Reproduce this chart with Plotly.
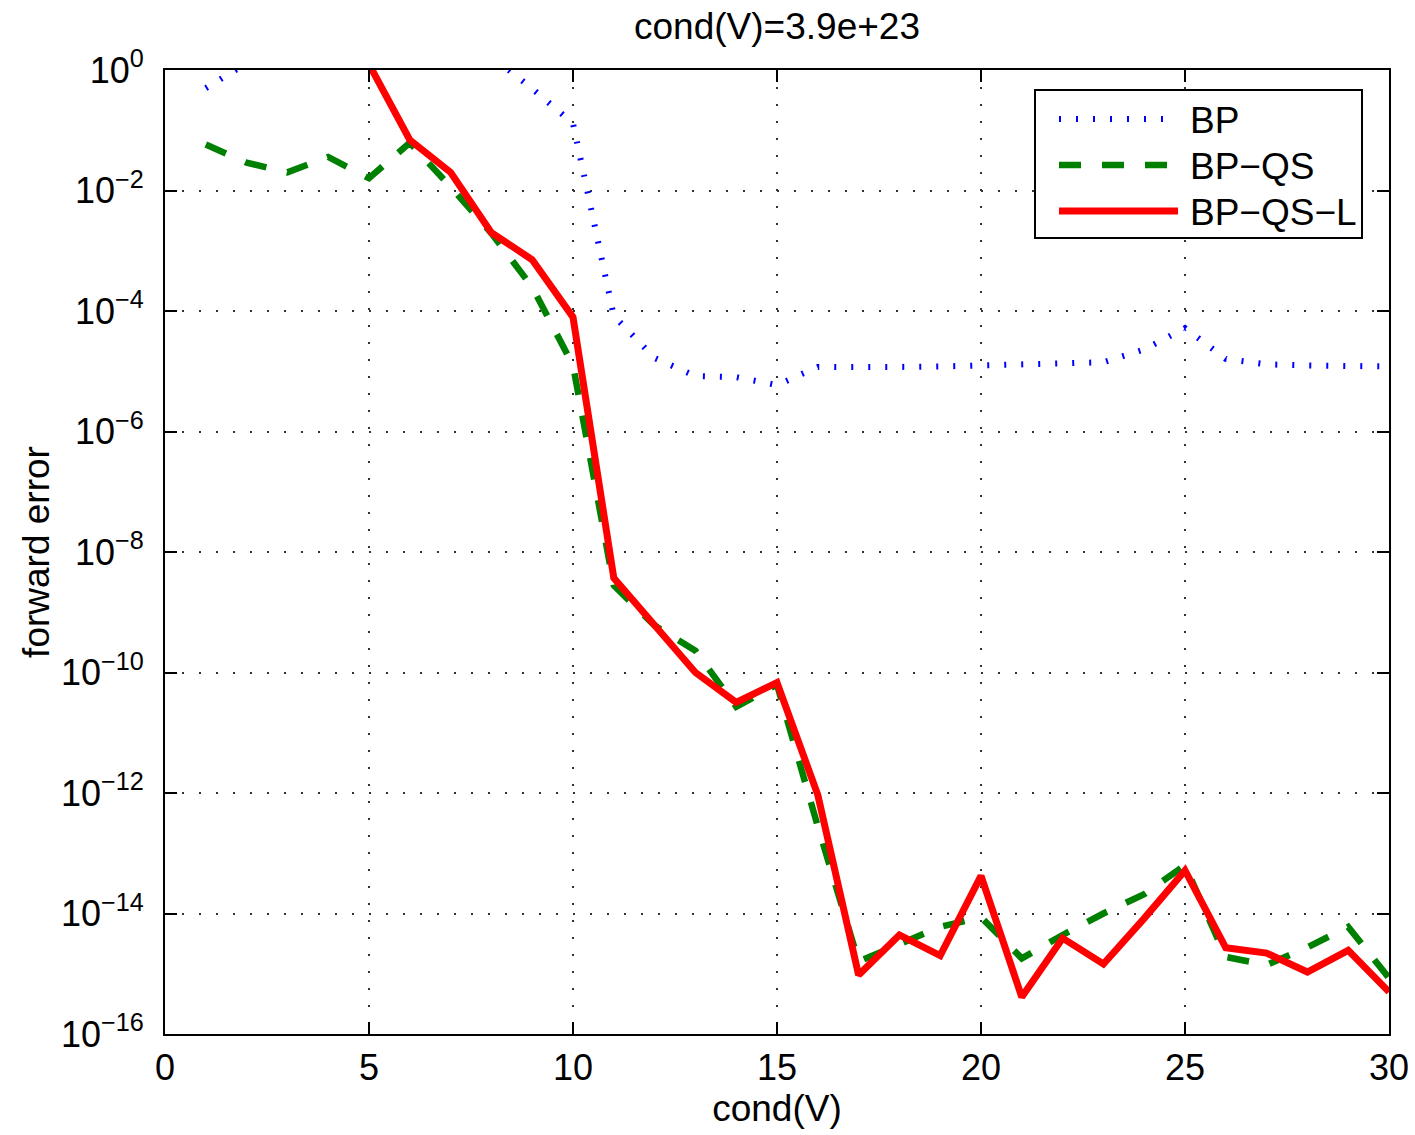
import plotly.graph_objects as go

# ---------------- data ----------------
x_vals = list(range(1, 31))

bp = [5.0e-1, 1.3, 3.0, 4.0, 3.5, 3.0, 2.5, 1.7, 4.9e-1, 1.3e-1,
      8.3e-5, 1.66e-5, 8.3e-6, 8.0e-6, 5.9e-6, 1.18e-5, 1.15e-5, 1.18e-5, 1.2e-5, 1.25e-5,
      1.3e-5, 1.35e-5, 1.41e-5, 2.3e-5, 5.2e-5, 1.6e-5, 1.3e-5, 1.25e-5, 1.2e-5, 1.2e-5]

bp_qs = [5.8e-2, 2.9e-2, 2.0e-2, 3.6e-2, 1.6e-2, 6.2e-2, 1.15e-2, 1.95e-3, 2.5e-4, 1.26e-5,
         2.8e-9, 6.0e-10, 2.3e-10, 2.7e-11, 6.3e-11, 2.8e-13, 1.6e-15, 3.2e-15, 6.0e-15, 8.7e-15,
         1.8e-15, 4.4e-15, 1.0e-14, 2.1e-14, 6.3e-14, 1.9e-15, 1.4e-15, 2.75e-15, 6.0e-15, 8.5e-16]

bp_qs_l = [3.0, 5.0, 4.0, 3.0, 1.25, 6.9e-2, 2.0e-2, 2.0e-3, 7.1e-4, 7.9e-5,
           3.7e-9, 6.2e-10, 1.0e-10, 3.2e-11, 6.8e-11, 9.3e-13, 9.5e-16, 4.4e-15, 2.0e-15, 4.2e-14,
           4.1e-16, 3.9e-15, 1.45e-15, 8.3e-15, 5.2e-14, 2.7e-15, 2.2e-15, 1.07e-15, 2.45e-15, 5.0e-16]

series_names = ["BP", "BP\u2212QS", "BP\u2212QS\u2212L"]

x_tickvals = [0, 5, 10, 15, 20, 25, 30]
y_tickvals = [1e0, 1e-2, 1e-4, 1e-6, 1e-8, 1e-10, 1e-12, 1e-14, 1e-16]
y_ticktext = ["10<sup>0</sup>", "10<sup>\u22122</sup>", "10<sup>\u22124</sup>", "10<sup>\u22126</sup>",
              "10<sup>\u22128</sup>", "10<sup>\u221210</sup>", "10<sup>\u221212</sup>",
              "10<sup>\u221214</sup>", "10<sup>\u221216</sup>"]

title_text = "cond(V)=3.9e+23"
x_label = "cond(V)"
y_label = "forward error"

# ---------------- styles ----------------
FONT = "Liberation Sans, Arial, Helvetica, sans-serif"
styles = [
    dict(color="#0000FF", width=6, dash="2px,15px"),
    dict(color="#008000", width=6.5, dash="22px,21px"),
    dict(color="#FF0000", width=7, dash="solid"),
]

fig = go.Figure()
for name, ys, st in zip(series_names, [bp, bp_qs, bp_qs_l], styles):
    fig.add_trace(go.Scatter(x=x_vals, y=ys, mode="lines", name=name,
                             line=st, showlegend=False))

axis_common = dict(
    showline=True, linewidth=2, linecolor="black", mirror="ticks",
    ticks="inside", ticklen=12, tickwidth=2, tickcolor="black",
    showgrid=True, gridcolor="#333333", gridwidth=1.5, griddash="2px,15px",
    zeroline=False, automargin=False,
    tickfont=dict(family=FONT, size=36, color="black"),
)

fig.update_xaxes(range=[0, 30], tickvals=x_tickvals, ticklabelstandoff=1,
                 title=dict(text=x_label, font=dict(family=FONT, size=37, color="black"), standoff=4),
                 **axis_common)
fig.update_yaxes(type="log", range=[-16, 0], tickvals=y_tickvals, ticktext=y_ticktext,
                 ticklabelstandoff=12,
                 title=dict(text=y_label, font=dict(family=FONT, size=37, color="black"), standoff=0),
                 **axis_common)

# ---------------- legend (drawn in paper coords) ----------------
def px_x(p):
    return (p - 165) / 1224.0

def px_y(p):
    return (1034 - p) / 964.0

shapes = [dict(type="rect", xref="paper", yref="paper",
               x0=px_x(1035), x1=px_x(1362), y0=px_y(238), y1=px_y(90),
               line=dict(color="black", width=2), fillcolor="white", layer="above")]
annotations = []
rows = [119, 165, 211]
for name, st, ry in zip(series_names, styles, rows):
    shapes.append(dict(type="line", xref="paper", yref="paper",
                       x0=px_x(1059), x1=px_x(1178), y0=px_y(ry), y1=px_y(ry),
                       line=st, layer="above"))
    annotations.append(dict(xref="paper", yref="paper", x=px_x(1188), y=px_y(ry + 1),
                            xanchor="left", yanchor="middle", showarrow=False, text=name,
                            font=dict(family=FONT, size=37, color="black")))

fig.update_layout(
    width=1415, height=1135,
    margin=dict(l=165, r=26, t=70, b=101),
    paper_bgcolor="white", plot_bgcolor="white",
    title=dict(text=title_text, x=777 / 1415, xanchor="center",
               y=1 - 26 / 1135, yanchor="middle", yref="container",
               font=dict(family=FONT, size=37, color="black")),
    shapes=shapes, annotations=annotations,
    showlegend=False,
)

fig.write_html("out.html")
